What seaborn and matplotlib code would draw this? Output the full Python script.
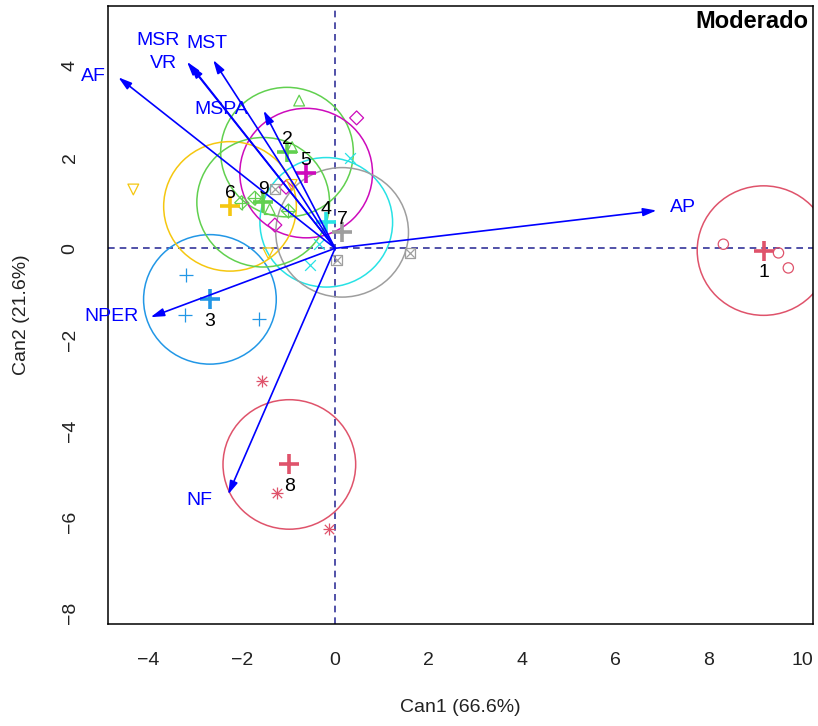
import numpy as np
import pandas as pd
import matplotlib
matplotlib.use("Agg")
import matplotlib.pyplot as plt
import seaborn as sns
from matplotlib.patches import Circle

# ---------------- data ----------------
groups = ["1", "2", "3", "4", "5", "6", "7", "8", "9"]
mean_can1 = [9.17, -1.03, -2.68, -0.19, -0.62, -2.25, 0.15, -0.98, -1.54]
mean_can2 = [-0.05, 2.11, -1.12, 0.57, 1.65, 0.92, 0.35, -4.74, 1.01]

obs_group = ["1", "1", "1", "2", "2", "2", "3", "3", "3",
             "4", "4", "4", "5", "5", "5", "6", "6", "6",
             "7", "7", "7", "8", "8", "8", "9", "9", "9"]
obs_can1 = [8.31, 9.49, 9.70, -0.77, -1.40, -0.92, -3.19, -3.22, -1.63,
            0.31, -0.54, -0.34, 0.46, -1.29, -1.05, -4.32, -1.43, -0.93,
            1.61, 0.03, -1.29, -1.57, -1.25, -0.13, -2.00, -1.72, -1.00]
obs_can2 = [0.09, -0.10, -0.43, 3.24, 0.86, 2.22, -0.59, -1.46, -1.56,
            1.97, -0.37, 0.10, 2.86, 0.51, 1.34, 1.29, -0.11, 1.39,
            -0.10, -0.26, 1.30, -2.90, -5.36, -6.16, 1.00, 1.10, 0.82]

variables = ["AP", "AF", "MSR", "VR", "MST", "MSPA", "NPER", "NF"]
vec_can1 = [6.88, -4.64, -3.17, -3.10, -2.61, -1.53, -3.95, -2.29]
vec_can2 = [0.83, 3.75, 4.09, 4.02, 4.13, 3.02, -1.51, -5.40]

xlabel = "Can1 (66.6%)"
ylabel = "Can2 (21.6%)"
title = "Moderado"
xticks = [-4, -2, 0, 2, 4, 6, 8, 10]
yticks = [-8, -6, -4, -2, 0, 2, 4]

# ---------------- styling ----------------
palette = ["#DF536B", "#61D04F", "#2297E6", "#28E2E5", "#CD0BBC",
           "#F5C710", "#9E9E9E", "#DF536B", "#61D04F"]
# each group's point symbol drawn as one or more matplotlib marker layers (R pch 1..9)
pch_layers = {
    "1": [("o", True)], "2": [("^", True)], "3": [("+", False)],
    "4": [("x", False)], "5": [("D", True)], "6": [("v", True)],
    "7": [("s", True), ("x", False)], "8": [("+", False), ("x", False)],
    "9": [("D", True), ("+", False)],
}
marker_size = {"o": 55, "^": 60, "v": 60, "D": 50, "s": 55, "+": 90, "x": 60}
# label offsets (pixels) of the vector names relative to arrow tips
vec_label_off = {"AP": (26, 3), "AF": (-25, 1), "MSR": (-29, 21), "VR": (-27, 2),
                 "MST": (-6, 16), "MSPA": (-42, 1), "NPER": (-39, 1), "NF": (-29, -6)}
radius = 1.42

sns.set_style("white")
plt.rcParams["font.family"] = ["Liberation Sans", "DejaVu Sans"]

W, H, DPI = 818, 726, 100
PX = 72.0 / DPI  # points per pixel
fig = plt.figure(figsize=(W / DPI, H / DPI), dpi=DPI)
ax = fig.add_axes([107.7 / W, 1 - 624 / H, (813.3 - 107.7) / W, (624 - 6) / H])
ax.set_xlim(-4.868, 10.235)
ax.set_ylim(-8.239, 5.314)

# reference lines
ax.axhline(0, color="#34349a", lw=1.2, ls=(0, (4, 3)), zorder=1)
ax.axvline(0, color="#34349a", lw=1.2, ls=(0, (4, 3)), zorder=1)

means = pd.DataFrame({"group": groups, "Can1": mean_can1, "Can2": mean_can2})
obs = pd.DataFrame({"group": obs_group, "Can1": obs_can1, "Can2": obs_can2})

for i, g in enumerate(groups):
    col = palette[i]
    mx, my = mean_can1[i], mean_can2[i]
    ax.add_patch(Circle((mx, my), radius, fill=False, ec=col, lw=1.1, zorder=2))
    sub = obs[obs["group"] == g]
    for mk, filled in pch_layers[g]:
        sz = marker_size[mk]
        if g == "8":
            sz = 70 if mk == "+" else 45
        if g == "7" and mk == "x":
            sz = 35
        if filled:
            sns.scatterplot(data=sub, x="Can1", y="Can2", marker=mk, s=sz,
                            facecolor="none", edgecolor=col, linewidth=0.9,
                            ax=ax, zorder=3, legend=False)
        else:
            sns.scatterplot(data=sub, x="Can1", y="Can2", marker=mk, s=sz,
                            color=col, linewidth=0.9, ax=ax, zorder=3, legend=False)
    msub = means[means["group"] == g]
    sns.scatterplot(data=msub, x="Can1", y="Can2", marker="+", s=210,
                    color=col, linewidth=2.6, ax=ax, zorder=4, legend=False)
    dy = 13 if my > 0 else -22
    ax.annotate(g, (mx, my), xytext=(0, dy * PX), textcoords="offset points",
                ha="center", va="center", fontsize=14, color="black", zorder=5)

for v, x1, y1 in zip(variables, vec_can1, vec_can2):
    ax.annotate("", xy=(x1, y1), xytext=(0, 0),
                arrowprops=dict(arrowstyle="-|>,head_length=0.8,head_width=0.24",
                                color="blue", lw=1.2, shrinkA=0, shrinkB=0),
                zorder=4)
    ox, oy = vec_label_off[v]
    ax.annotate(v, (x1, y1), xytext=(ox * PX, oy * PX), textcoords="offset points",
                ha="center", va="center", fontsize=14, color="blue",
                annotation_clip=False, zorder=5)

ax.set_xticks(xticks)
ax.set_yticks(yticks)
ax.set_xticklabels([str(t).replace("-", "\u2212") for t in xticks])
ax.set_yticklabels([str(t).replace("-", "\u2212") for t in yticks])
ax.tick_params(axis="both", length=9, width=1, color="#333333", labelsize=14,
               labelcolor="#222222", direction="out")
ax.tick_params(axis="x", pad=11)
ax.tick_params(axis="y", pad=12)
for lab in ax.get_yticklabels():
    lab.set_rotation(90)
    lab.set_va("center")
ax.set_xlabel("")
ax.set_ylabel("")
for s in ax.spines.values():
    s.set_color("black")
    s.set_linewidth(1.1)
    s.set_visible(True)

fig.text(460.5 / W, 1 - 708 / H, xlabel, ha="center", va="center", fontsize=14, color="#222222")
fig.text(22 / W, 1 - 315 / H, ylabel, ha="center", va="center", rotation=90,
         fontsize=14, color="#222222")
fig.text(808 / W, 1 - 22 / H, title, ha="right", va="center", fontsize=17,
         fontweight="bold", color="black")

fig.savefig("out.png", dpi=DPI)
